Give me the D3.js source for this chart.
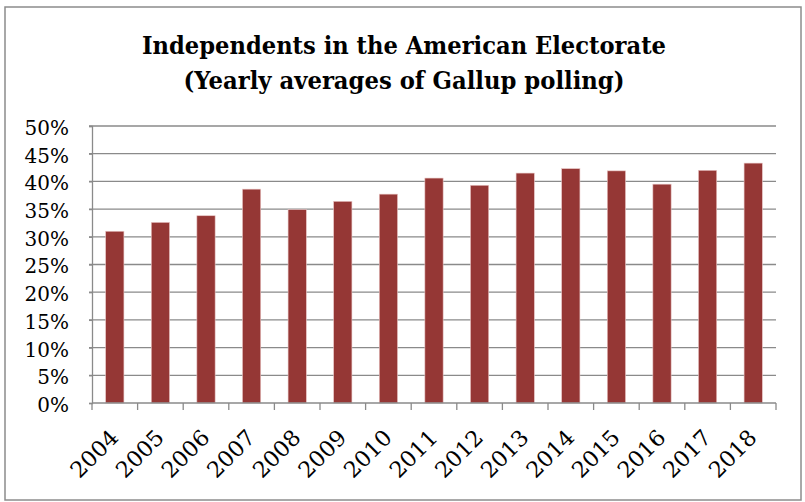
<!DOCTYPE html>
<html>
<head>
<meta charset="utf-8">
<script src="https://cdn.jsdelivr.net/npm/d3@7"></script>
<style>
  html, body { margin: 0; padding: 0; background: #fff; }
  svg { display: block; }
</style>
</head>
<body>
<script>
const years = ["2004","2005","2006","2007","2008","2009","2010","2011","2012","2013","2014","2015","2016","2017","2018"];
const independents = [31, 32.6, 33.8, 38.6, 34.9, 36.4, 37.7, 40.6, 39.3, 41.5, 42.3, 41.9, 39.5, 42, 43.3];
const yTicks = [0, 5, 10, 15, 20, 25, 30, 35, 40, 45, 50];
const titleLines = ["Independents in the American Electorate", "(Yearly averages of Gallup polling)"];

const W = 805, H = 502;
const margin = { left: 92, right: 29, top: 126, bottom: 99 };
const serif = "'DejaVu Serif', serif";

const svg = d3.select("body").append("svg").attr("width", W).attr("height", H);

// outer chart border
svg.append("rect")
  .attr("x", 5).attr("y", 7).attr("width", 796).attr("height", 493)
  .attr("fill", "#fff").attr("stroke", "#8c8c8c").attr("stroke-width", 1.5);

const x = d3.scaleBand().domain(years).range([margin.left, W - margin.right]).paddingInner(0.6).paddingOuter(0.3);
const y = d3.scaleLinear().domain([0, 50]).range([H - margin.bottom, margin.top]);

// gridlines
svg.append("g")
  .selectAll("line").data(yTicks.filter(d => d > 0)).join("line")
  .attr("x1", margin.left - 3).attr("x2", W - margin.right)
  .attr("y1", d => y(d)).attr("y2", d => y(d))
  .attr("stroke", "#8a8a8a").attr("stroke-width", 1.3);

// bars
svg.append("g")
  .selectAll("rect").data(independents).join("rect")
  .attr("x", (d, i) => x(years[i]))
  .attr("y", d => y(d))
  .attr("width", x.bandwidth())
  .attr("height", d => y(0) - y(d))
  .attr("fill", "#953735")
  .attr("stroke", "#e8c4c3").attr("stroke-width", 0.6);

// y axis
const yAxis = d3.axisLeft(y).tickValues(yTicks).tickFormat(d => d + "%").tickSize(3).tickPadding(20);
const gy = svg.append("g").attr("transform", `translate(${margin.left},0)`).call(yAxis);
gy.select(".domain").attr("stroke", "#8a8a8a").attr("stroke-width", 1.3);
gy.selectAll(".tick line").attr("stroke", "#8a8a8a").attr("stroke-width", 1.3);
gy.selectAll("text").attr("font-family", serif).attr("font-size", 20).attr("fill", "#000").attr("dy", "0.42em");

// x axis with ticks at band boundaries
const xAxisG = svg.append("g").attr("transform", `translate(0,${y(0)})`);
xAxisG.append("line").attr("x1", margin.left).attr("x2", W - margin.right)
  .attr("stroke", "#8a8a8a").attr("stroke-width", 1.3);
const bounds = d3.range(years.length + 1).map(i => margin.left + i * (W - margin.right - margin.left) / years.length);
xAxisG.selectAll("line.t").data(bounds).join("line").attr("class", "t")
  .attr("x1", d => d).attr("x2", d => d).attr("y1", 0).attr("y2", 7)
  .attr("stroke", "#8a8a8a").attr("stroke-width", 1.3);
xAxisG.selectAll("text").data(years).join("text")
  .attr("transform", d => `translate(${x(d) + x.bandwidth() / 2 + 5},${36}) rotate(-45)`)
  .attr("text-anchor", "end")
  .attr("font-family", serif).attr("font-size", 22).attr("fill", "#000")
  .attr("textLength", 57).attr("lengthAdjust", "spacingAndGlyphs")
  .text(d => d);

// title
const titleWidths = [524, 441];
svg.append("g").selectAll("text").data(titleLines).join("text")
  .attr("x", 404).attr("y", (d, i) => 54 + i * 35)
  .attr("text-anchor", "middle")
  .attr("font-family", serif).attr("font-weight", "bold").attr("font-size", 23.5)
  .attr("textLength", (d, i) => titleWidths[i]).attr("lengthAdjust", "spacingAndGlyphs")
  .attr("fill", "#000")
  .text(d => d);
</script>
</body>
</html>
